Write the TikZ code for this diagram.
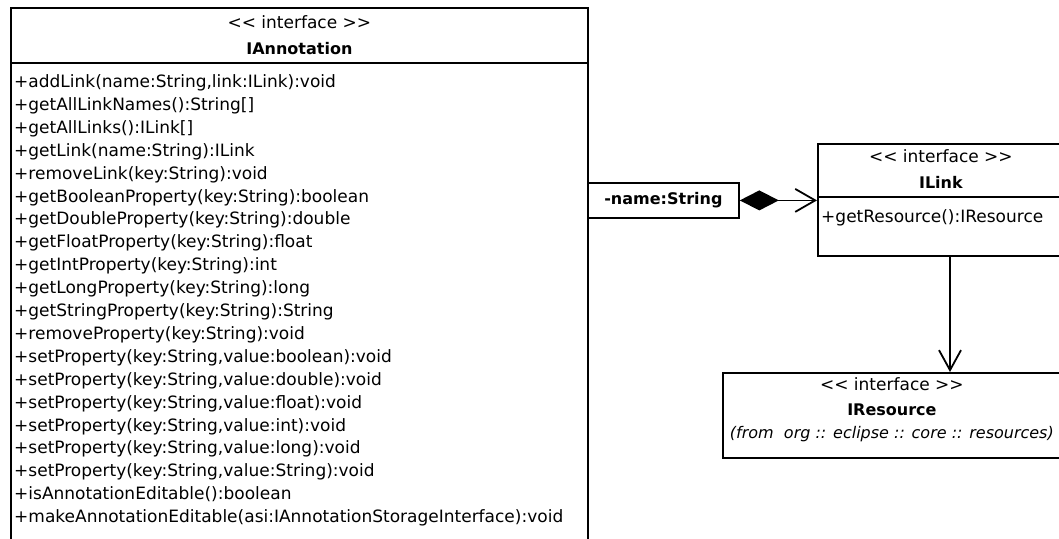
\documentclass[tikz,border=0pt]{standalone}
\usepackage{fontspec}
\setmainfont{DejaVu Sans}
\usetikzlibrary{arrows.meta}
\begin{document}
\begin{tikzpicture}[x=1pt,y=-1pt,
  umlbox/.style={draw,line width=1.8pt,inner sep=0pt,anchor=north west},
  divider/.style={line width=1.8pt},
  txt/.style={inner sep=0pt,anchor=base,font=\fontsize{17}{20}\selectfont},
  bold/.style={inner sep=0pt,anchor=base,font=\fontsize{16}{20}\selectfont\bfseries},
  pkg/.style={inner sep=0pt,anchor=base,font=\fontsize{16}{20}\selectfont\itshape},
  op/.style={txt,anchor=base west},
  conn/.style={line width=1.8pt},
  openv/.style={-{Straight Barb[length=20pt,width=22pt,line width=1.8pt]}},
  comp/.style={{Diamond[length=39pt,width=20pt]}-{Straight Barb[length=20pt,width=23pt,line width=1.8pt]}}]
\clip (0,0) rectangle (1059,538);
\fill[white] (0,0) rectangle (1059,538);

% IAnnotation interface (runs past the lower edge)
\node[umlbox,minimum width=577pt,minimum height=600pt] (ann) at (10,7) {};
\draw[divider] (ann.west |- 0,63) -- (ann.east |- 0,63);
\node[txt] (annst) at (ann.north |- 0,28.5) {<\kern0pt< interface >\kern0pt>};
\node[bold] (annname) at (ann.north |- 0,54) {IAnnotation};
\foreach \t [count=\i from 0] in {
  {+addLink(name:String,link:ILink):void},
  {+getAllLinkNames():String[]},
  {+getAllLinks():ILink[]},
  {+getLink(name:String):ILink},
  {+removeLink(key:String):void},
  {+getBooleanProperty(key:String):boolean},
  {+getDoubleProperty(key:String):double},
  {+getFloatProperty(key:String):float},
  {+getIntProperty(key:String):int},
  {+getLongProperty(key:String):long},
  {+getStringProperty(key:String):String},
  {+removeProperty(key:String):void},
  {+setProperty(key:String,value:boolean):void},
  {+setProperty(key:String,value:double):void},
  {+setProperty(key:String,value:float):void},
  {+setProperty(key:String,value:int):void},
  {+setProperty(key:String,value:long):void},
  {+setProperty(key:String,value:String):void},
  {+isAnnotationEditable():boolean},
  {+makeAnnotationEditable(asi:IAnnotationStorageInterface):void}}
  \node[op] (op\i) at (14,{87.5+22.9*\i}) {\t};

% association end name
\node[umlbox,minimum width=151pt,minimum height=35pt] (role) at (587,182) {};
\node[bold,anchor=center] (rolename) at (role.center) {-name:String};

% ILink interface
\node[umlbox,minimum width=246pt,minimum height=112pt] (link) at (817,143) {};
\draw[divider] (link.west |- 0,197) -- (link.east |- 0,197);
\node[txt] (linkst) at (link.north |- 0,162.5) {<\kern0pt< interface >\kern0pt>};
\node[bold] (linkname) at (link.north |- 0,188) {ILink};
\node[op] (linkop) at (821,222.5) {+getResource():IResource};

% IResource interface
\node[umlbox,minimum width=338pt,minimum height=85pt] (res) at (722,372) {};
\node[txt] (resst) at (res.north |- 0,390.5) {<\kern0pt< interface >\kern0pt>};
\node[bold] (resname) at (res.north |- 0,415) {IResource};
\node[pkg] (respkg) at (res.north |- 0,438.5) {(from~~org :: eclipse :: core :: resources)};

% connectors
\draw[conn,comp] (role.east) -- (link.west |- role.east);
\coordinate (linkfoot) at (950,0);
\draw[conn,openv] (link.south -| linkfoot) -- (res.north -| linkfoot);
\end{tikzpicture}
\end{document}
